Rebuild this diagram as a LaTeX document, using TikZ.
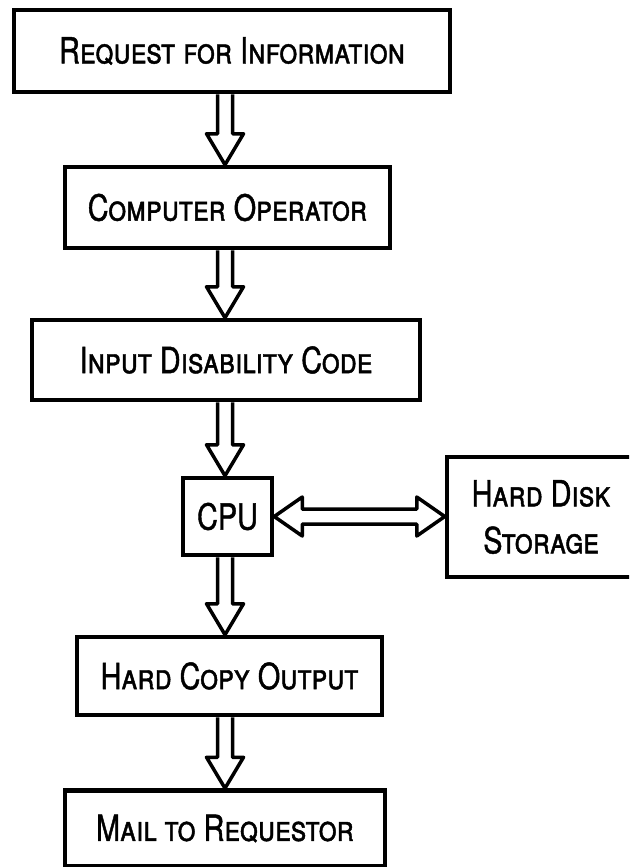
\documentclass[tikz,border=0pt]{standalone}
\usepackage{fontspec}
\setmainfont{TeX Gyre Heros}[FakeStretch=0.8, FakeBold=1.2]
\usetikzlibrary{calc}

\newcommand{\flowdown}[2]{%
  \draw[hollow] let \p1=(#1.south -| axis), \p2=(#2.north -| axis) in
    (\x1-7.5pt,\y1) -- (\x1-7.5pt,\y2+31pt) -- (\x1-18.5pt,\y2+31pt) -- (\x1,\y2)
    -- (\x1+18.5pt,\y2+31pt) -- (\x1+7.5pt,\y2+31pt) -- (\x1+7.5pt,\y1);
}
\newcommand{\flowboth}[2]{%
  \draw[hollow] let \p1=(#1.east), \p2=(#2.west |- #1.east) in
    (\x1,\y1) -- (\x1+28pt,\y1+19.5pt) -- (\x1+28pt,\y1+7.5pt) -- (\x2-28pt,\y1+7.5pt)
    -- (\x2-28pt,\y1+19.5pt) -- (\x2,\y1) -- (\x2-28pt,\y1-19.5pt) -- (\x2-28pt,\y1-7.5pt)
    -- (\x1+28pt,\y1-7.5pt) -- (\x1+28pt,\y1-19.5pt) -- cycle;
}

\begin{document}
\begin{tikzpicture}[x=1pt, y=1pt,
    box/.style={draw, line width=4.5pt, inner sep=0pt, align=center,
      font=\fontsize{36}{47}\selectfont\scshape},
    hollow/.style={line width=3.5pt, line join=round}]
    \useasboundingbox (0,0) rectangle (629,-867);
    \clip (0,0) rectangle (629,-867);
    \coordinate (axis) at (225,0);
    \node[box, minimum width=436, minimum height=82] (req) at (232,-51) {Request for Information};
    \node[box, minimum width=325, minimum height=81] (oper) at (227.5,-207.5) {Computer Operator};
    \node[box, minimum width=388, minimum height=80] (code) at (226,-360) {Input Disability Code};
    \node[box, minimum width=89, minimum height=77] (cpu) at (227.5,-516.5) {CPU};
    \node[box, minimum width=188, minimum height=120] (disk) at (541,-517) {Hard Disk\\Storage};
    \node[box, minimum width=305, minimum height=78] (hcopy) at (229.5,-676) {Hard Copy Output};
    \node[box, minimum width=320, minimum height=76] (mail) at (225,-828.5) {Mail to Requestor};
    \flowdown{req}{oper}
    \flowdown{oper}{code}
    \flowdown{code}{cpu}
    \flowdown{cpu}{hcopy}
    \flowdown{hcopy}{mail}
    \flowboth{cpu}{disk}
  \end{tikzpicture}
\end{document}
